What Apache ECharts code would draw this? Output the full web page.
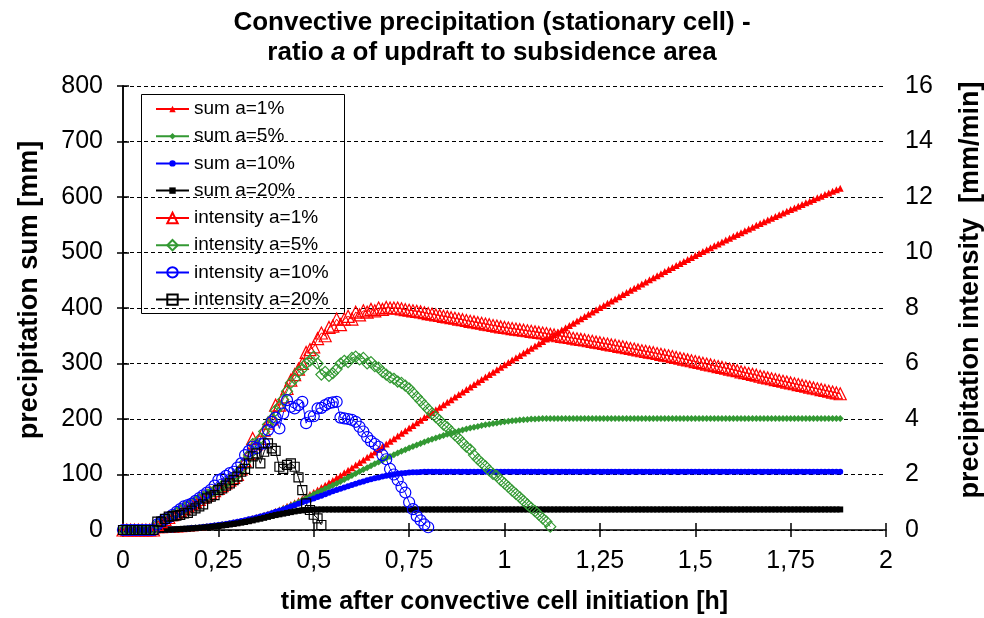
<!DOCTYPE html>
<html>
<head>
<meta charset="utf-8">
<title>Convective precipitation</title>
<script src="https://cdn.jsdelivr.net/npm/echarts@6/dist/echarts.min.js"></script>
<style>
    html, body { margin: 0; padding: 0; background: #fff; }
    #chart { width: 984px; height: 618px; }
</style>
</head>
<body>
<div id="chart"></div>
<script>
    // model output every 0.01 h
    var step = 0.01;
    var xTickLabels = ['0', '0,25', '0,5', '0,75', '1', '1,25', '1,5', '1,75', '2'];

    // precipitation sum [mm], 0 .. 1.88 h
    var sumA1 = [0,0,0,0,0,0,0,0,0,0.1,0.3,0.5,0.8,1.1,1.5,1.9,2.4,2.9,3.5,4.1,
        4.8,5.5,6.2,7.0,7.9,8.8,9.7,10.8,11.8,13.0,
        14.2,15.5,17.0,18.6,20.6,22.5,24.5,26.6,28.9,31.3,
        34.0,36.7,39.6,42.7,45.9,49.3,52.8,56.4,60.2,64.1,
        68.1,72.2,76.5,80.7,85.0,89.4,94.0,98.4,103.0,107.6,
        112.2,116.9,121.5,126.3,131.0,135.8,140.5,145.3,150.1,154.9,
        159.7,164.5,169.3,174.1,178.8,183.6,188.3,193.1,197.8,202.5,
        207.1,211.8,216.5,221.1,225.7,230.3,234.9,239.5,244.1,248.6,
        253.1,257.7,262.2,266.6,271.1,275.6,280.0,284.4,288.8,293.2,
        297.6,301.9,306.1,310.4,314.6,318.9,323.1,327.3,331.5,335.7,
        339.8,344.0,348.1,352.3,356.4,360.5,364.6,368.6,372.7,376.7,
        380.8,384.8,388.8,392.8,396.7,400.7,404.6,408.6,412.5,416.4,
        420.3,424.1,428.0,431.8,435.6,439.4,443.2,447.0,450.8,454.5,
        458.2,461.9,465.6,469.3,473.0,476.6,480.2,483.8,487.4,491.0,
        494.5,498.1,501.6,505.1,508.6,512.0,515.5,518.9,522.3,525.7,
        529.1,532.4,535.8,539.1,542.4,545.6,548.9,552.1,555.3,558.5,
        561.7,564.9,568.0,571.2,574.3,577.4,580.4,583.5,586.5,589.5,
        592.5,595.5,598.5,601.4,604.4,607.3,610.2,613.0,615.9];
    var sumA5 = [0,0,0,0,0,0,0,0,0,0.1,0.3,0.5,0.8,1.1,1.5,1.9,2.3,2.8,3.4,4.0,
        4.6,5.3,6.0,6.8,7.6,8.5,9.4,10.4,11.4,12.5,
        13.7,14.9,16.4,17.9,19.7,21.5,23.4,25.5,27.7,30.0,
        32.5,35.1,37.8,40.7,43.7,46.9,50.2,53.5,57.0,60.5,
        64.2,67.6,70.9,74.2,77.4,80.7,84.0,87.5,91.0,94.5,
        98.1,101.7,105.3,108.9,112.3,115.8,119.3,122.6,125.9,129.2,
        132.4,135.5,138.6,141.7,144.7,147.6,150.5,153.3,156.0,158.6,
        161.1,163.5,165.9,168.2,170.4,172.5,174.6,176.5,178.5,180.3,
        182.0,183.7,185.3,186.7,188.1,189.5,190.7,191.9,193.0,194.0,
        195.0,195.9,196.7,197.5,198.2,198.8,199.3,199.8,200.2,200.5,
        200.7,200.9,201,201,201,201,201,201,201,201,
        201,201,201,201,201,201,201,201,201,201,
        201,201,201,201,201,201,201,201,201,201,
        201,201,201,201,201,201,201,201,201,201,
        201,201,201,201,201,201,201,201,201,201,
        201,201,201,201,201,201,201,201,201,201,
        201,201,201,201,201,201,201,201,201,201,
        201,201,201,201,201,201,201,201,201];
    var sumA10 = [0,0,0,0,0,0,0,0,0,0.1,0.3,0.5,0.8,1.1,1.4,1.9,2.3,2.9,3.4,4.0,
        4.7,5.4,6.1,7.0,7.9,8.9,9.9,11.0,12.2,13.4,
        14.7,16.0,17.6,19.2,20.9,22.6,24.3,26.1,28.1,30.4,
        32.7,34.7,37.1,39.8,42.3,44.8,47.3,50.0,52.2,54.5,
        56.8,59.3,61.8,64.4,67.0,69.6,72.2,74.5,76.8,79.0,
        81.3,83.5,85.6,87.6,89.5,91.4,93.1,94.8,96.4,97.8,
        99.1,100.2,101.2,102.1,102.9,103.6,104.0,104.2,104.5,104.8,
        105,105,105,105,105,105,105,105,105,105,
        105,105,105,105,105,105,105,105,105,105,
        105,105,105,105,105,105,105,105,105,105,
        105,105,105,105,105,105,105,105,105,105,
        105,105,105,105,105,105,105,105,105,105,
        105,105,105,105,105,105,105,105,105,105,
        105,105,105,105,105,105,105,105,105,105,
        105,105,105,105,105,105,105,105,105,105,
        105,105,105,105,105,105,105,105,105,105,
        105,105,105,105,105,105,105,105,105,105,
        105,105,105,105,105,105,105,105,105];
    var sumA20 = [0,0,0,0,0,0,0,0,0,0.2,0.3,0.6,0.8,1.1,1.4,1.7,2.1,2.4,2.8,3.3,
        3.8,4.3,4.9,5.6,6.3,7.2,8.0,8.9,9.9,10.9,
        12.0,13.2,14.4,15.8,17.3,18.9,20.3,21.9,23.6,25.3,
        26.9,28.2,29.5,30.8,32.2,33.5,34.6,35.4,35.9,36.4,
        36.7,36.9,37,37,37,37,37,37,37,37,
        37,37,37,37,37,37,37,37,37,37,
        37,37,37,37,37,37,37,37,37,37,
        37,37,37,37,37,37,37,37,37,37,
        37,37,37,37,37,37,37,37,37,37,
        37,37,37,37,37,37,37,37,37,37,
        37,37,37,37,37,37,37,37,37,37,
        37,37,37,37,37,37,37,37,37,37,
        37,37,37,37,37,37,37,37,37,37,
        37,37,37,37,37,37,37,37,37,37,
        37,37,37,37,37,37,37,37,37,37,
        37,37,37,37,37,37,37,37,37,37,
        37,37,37,37,37,37,37,37,37,37,
        37,37,37,37,37,37,37,37,37];

    // precipitation intensity [mm/min]
    var intA1 = [0,0,0,0,0,0,0,0,0,0.2,0.3,0.38,0.45,0.55,0.62,0.7,0.78,0.87,0.95,1.02,
        1.1,1.18,1.26,1.34,1.42,1.5,1.6,1.7,1.8,1.9,
        2.0,2.2,2.5,2.75,3.3,3.1,3.3,3.6,3.85,4.0,
        4.5,4.5,4.8,5.1,5.4,5.6,5.8,6.0,6.4,6.5,
        6.6,6.9,7.1,7.0,7.3,7.35,7.6,7.4,7.6,7.7,
        7.6,7.85,7.75,7.9,7.85,7.95,7.9,8.0,7.95,8.02,
        8.0,8.0,8.0,7.97,7.94,7.92,7.9,7.88,7.86,7.83,
        7.8,7.78,7.75,7.73,7.7,7.68,7.65,7.63,7.6,7.58,
        7.55,7.52,7.5,7.47,7.45,7.42,7.4,7.37,7.35,7.32,
        7.3,7.28,7.26,7.24,7.22,7.2,7.18,7.16,7.14,7.12,
        7.1,7.08,7.05,7.03,7.0,6.98,6.96,6.94,6.91,6.89,
        6.87,6.85,6.82,6.8,6.77,6.75,6.72,6.7,6.67,6.65,
        6.62,6.6,6.57,6.54,6.52,6.49,6.46,6.44,6.41,6.39,
        6.36,6.33,6.3,6.28,6.25,6.22,6.19,6.16,6.13,6.1,
        6.07,6.04,6.01,5.98,5.95,5.92,5.89,5.86,5.83,5.8,
        5.77,5.74,5.7,5.67,5.64,5.61,5.58,5.54,5.51,5.48,
        5.45,5.42,5.39,5.36,5.33,5.3,5.27,5.24,5.21,5.18,
        5.15,5.12,5.09,5.06,5.03,5.0,4.97,4.94,4.91];
    var intA5 = [0,0,0,0,0,0,0,0,0,0.2,0.3,0.38,0.45,0.55,0.62,0.7,0.78,0.87,0.95,1.02,
        1.1,1.18,1.26,1.34,1.42,1.5,1.6,1.7,1.8,1.9,
        2.0,2.2,2.45,2.7,3.1,3.1,3.3,3.55,3.8,4.0,
        4.3,4.45,4.7,5.0,5.3,5.45,5.7,5.8,6.0,6.1,
        6.25,6.0,5.6,5.7,5.55,5.65,5.8,6.0,6.1,6.05,
        6.2,6.25,6.15,6.2,6.0,6.05,5.9,5.85,5.7,5.6,
        5.5,5.45,5.35,5.3,5.2,5.1,4.95,4.8,4.65,4.5,
        4.35,4.2,4.07,3.95,3.8,3.7,3.55,3.42,3.3,3.15,
        3.0,2.9,2.7,2.55,2.42,2.3,2.15,2.02,1.95,1.8,
        1.68,1.55,1.42,1.3,1.18,1.05,0.92,0.8,0.68,0.55,
        0.42,0.3,0.12];
    var intA10 = [0,0,0,0,0,0,0,0,0,0.2,0.3,0.38,0.45,0.55,0.65,0.75,0.85,0.9,0.95,1.05,
        1.15,1.25,1.35,1.45,1.6,1.8,1.85,1.95,2.05,2.1,
        2.25,2.4,2.7,2.85,3.0,2.95,3.1,3.12,3.6,3.9,
        4.05,3.66,4.2,4.68,4.44,4.38,4.5,4.62,3.85,4.1,
        4.1,4.38,4.4,4.5,4.57,4.6,4.62,4.05,4.02,4.0,
        3.97,3.9,3.72,3.55,3.35,3.2,3.1,3.0,2.7,2.55,
        2.2,2.0,1.8,1.55,1.35,1.0,0.75,0.5,0.35,0.2,
        0.1];
    var intA20 = [0,0,0,0,0,0,0,0,0,0.3,0.3,0.4,0.48,0.5,0.52,0.54,0.6,0.62,0.7,0.78,
        0.85,0.92,1.14,1.2,1.26,1.44,1.5,1.6,1.68,1.8,
        1.92,2.1,2.2,2.4,2.65,2.76,2.4,2.82,3.12,2.94,
        2.85,2.28,2.2,2.35,2.4,2.28,1.9,1.44,0.96,0.72,
        0.55,0.42,0.18];

    var font = "'Liberation Sans', Arial, sans-serif";
    var red = '#ff0000';
    var green = '#339933';
    var blue = '#0000ff';
    var black = '#000000';

    var chart = echarts.init(document.getElementById('chart'));

    function toPoints(values) {
        return values.map(function (v, i) {
            return [i * step, v];
        });
    }

    function makeSeries(name, values, yIndex, symbol, size, color, hollow) {
        return {
            name: name,
            type: 'line',
            yAxisIndex: yIndex,
            data: toPoints(values),
            symbol: symbol,
            symbolSize: size,
            showAllSymbol: true,
            animation: false,
            lineStyle: {color: color, width: 1},
            itemStyle: hollow
                ? {color: 'rgba(255,255,255,0)', borderColor: color, borderWidth: 1.2}
                : {color: color, borderWidth: 0},
            emphasis: {disabled: true}
        };
    }

    var axisLine = {show: true, lineStyle: {color: '#000', width: 1.5}};
    var tickStyle = {color: '#000', width: 1.5};
    // names sit a little above the middle of the axis, like the original
    var nameStyle = {fontFamily: font, fontWeight: 'bold', fontSize: 27, color: '#000', padding: [0, 0, 0, 36]};
    var labelStyle = {fontFamily: font, fontSize: 25, color: '#000'};
    var legendText = {fontFamily: font, fontSize: 19, color: '#000', lineHeight: 20};

    var option = {
        backgroundColor: '#fff',
        animation: false,
        title: {
            left: 'center',
            top: 3,
            text: '{b|Convective precipitation (stationary cell) -}\n{b|ratio }{i|a}{b| of updraft to subsidence area}',
            textStyle: {
                rich: {
                    b: {fontFamily: font, fontWeight: 'bold', fontSize: 26, color: '#000', lineHeight: 30},
                    i: {fontFamily: font, fontWeight: 'bold', fontStyle: 'italic', fontSize: 26, color: '#000', lineHeight: 30}
                }
            }
        },
        grid: {left: 123, right: 98, top: 86, bottom: 88, outerBoundsMode: 'none'},
        legend: [{
            data: ['sum a=1%', 'sum a=5%', 'sum a=10%', 'sum a=20%'],
            orient: 'vertical',
            left: 155,
            top: 99,
            padding: 0,
            itemWidth: 33,
            itemHeight: 8,
            itemGap: 7.2,
            selectedMode: false,
            textStyle: legendText
        }, {
            data: ['intensity a=1%', 'intensity a=5%', 'intensity a=10%', 'intensity a=20%'],
            orient: 'vertical',
            left: 155,
            top: 208,
            padding: 0,
            itemWidth: 33,
            itemHeight: 13,
            itemGap: 7.2,
            selectedMode: false,
            textStyle: legendText
        }],
        graphic: [{
            type: 'rect',
            shape: {x: 141.5, y: 94.5, width: 203, height: 219},
            style: {fill: 'none', stroke: '#000', lineWidth: 1},
            z: 0
        }],
        xAxis: [{
            type: 'value',
            min: 0,
            max: 2,
            interval: 0.25,
            name: 'time after convective cell initiation [h]',
            nameLocation: 'middle',
            nameGap: 60,
            nameTextStyle: {fontFamily: font, fontWeight: 'bold', fontSize: 25, color: '#000'},
            axisLine: axisLine,
            axisTick: {show: true, length: 7, lineStyle: tickStyle},
            axisLabel: Object.assign({
                margin: 19,
                formatter: function (v) {
                    return xTickLabels[Math.round(v / 0.25)];
                }
            }, labelStyle),
            splitLine: {show: false}
        }, {
            type: 'value',
            min: 0,
            max: 2,
            interval: 0.25,
            position: 'bottom',
            axisLine: {show: false},
            axisTick: {show: true, inside: true, length: 7, lineStyle: tickStyle},
            axisLabel: {show: false},
            splitLine: {show: false}
        }],
        yAxis: [{
            type: 'value',
            min: 0,
            max: 800,
            interval: 100,
            position: 'left',
            name: 'precipitation sum [mm]',
            nameLocation: 'middle',
            nameGap: 80,
            nameTextStyle: nameStyle,
            axisLine: axisLine,
            axisTick: {show: true, length: 6, lineStyle: tickStyle},
            axisLabel: Object.assign({margin: 20}, labelStyle),
            splitLine: {show: true, lineStyle: {color: '#000', width: 1, type: [4, 3]}}
        }, {
            type: 'value',
            min: 0,
            max: 16,
            interval: 2,
            position: 'right',
            name: 'precipitation intensity  [mm/min]',
            nameLocation: 'middle',
            nameGap: 71,
            nameRotate: 90,
            nameTextStyle: nameStyle,
            axisLine: axisLine,
            axisTick: {show: true, length: 6, lineStyle: tickStyle},
            axisLabel: Object.assign({margin: 19}, labelStyle),
            splitLine: {show: false}
        }],
        series: [
            makeSeries('sum a=1%', sumA1, 0, 'triangle', 7, red, false),
            makeSeries('sum a=5%', sumA5, 0, 'diamond', 7, green, false),
            makeSeries('sum a=10%', sumA10, 0, 'circle', 6, blue, false),
            makeSeries('sum a=20%', sumA20, 0, 'rect', 6, black, false),
            makeSeries('intensity a=1%', intA1, 1, 'triangle', 12, red, true),
            makeSeries('intensity a=5%', intA5, 1, 'diamond', 11, green, true),
            makeSeries('intensity a=10%', intA10, 1, 'circle', 11, blue, true),
            makeSeries('intensity a=20%', intA20, 1, 'rect', 9, black, true)
        ]
    };

    chart.setOption(option);
</script>
</body>
</html>
